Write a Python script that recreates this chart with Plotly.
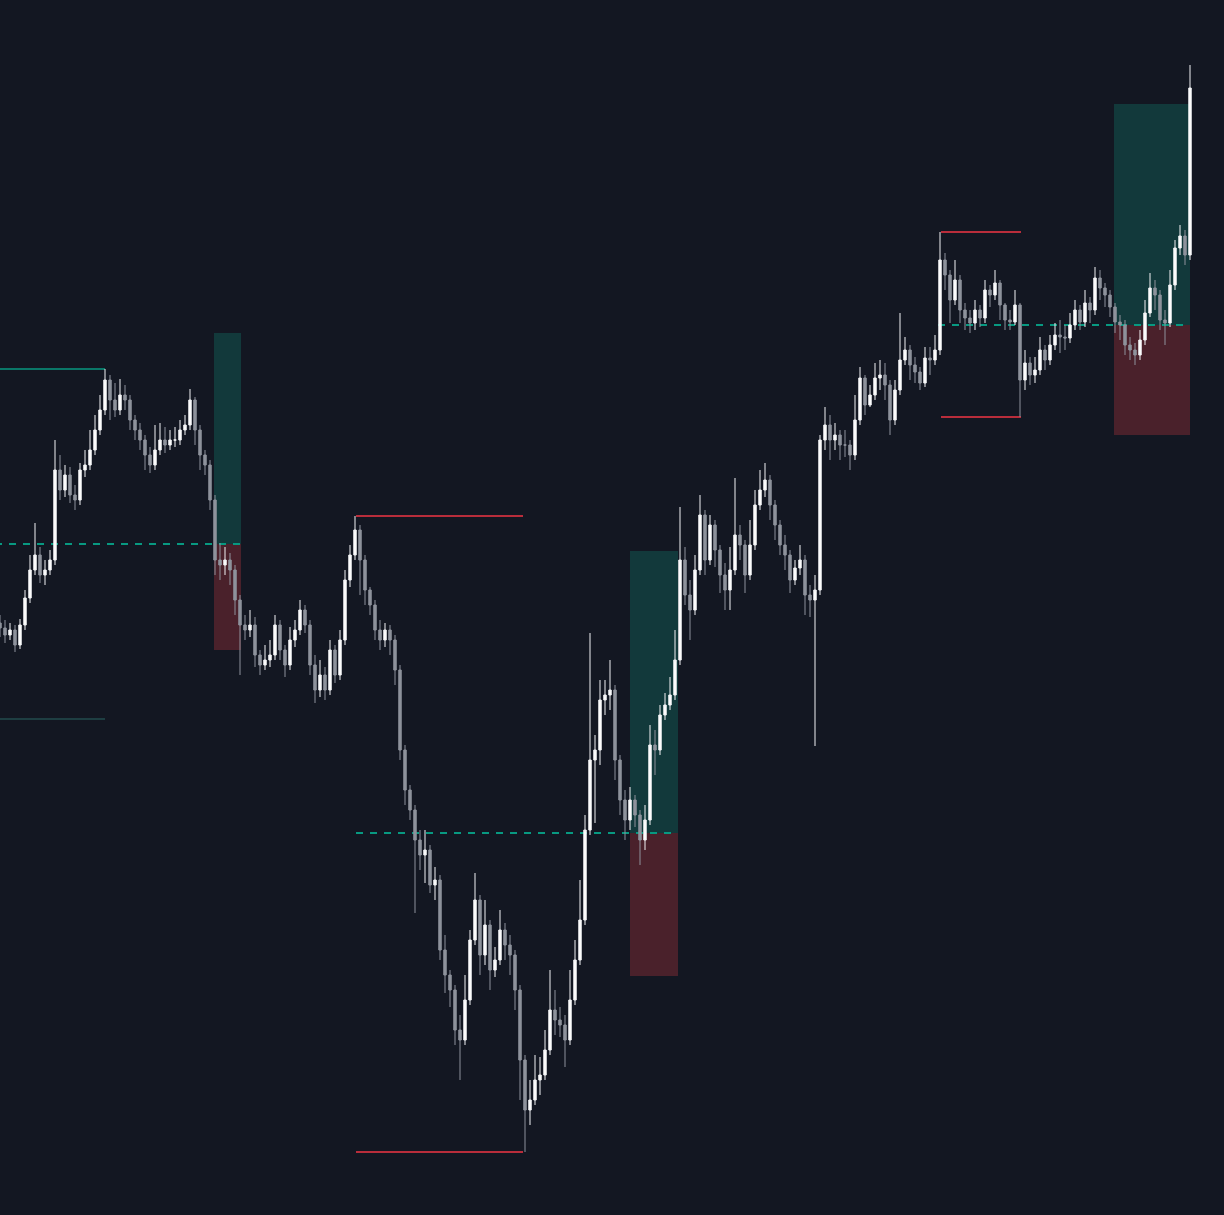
import plotly.graph_objects as go

# ---------------- price data (one bar per candle) ----------------
first_open = 592
closes = [
    587, 580, 585, 570, 590, 617, 645, 660, 640, 645,
    655, 745, 725, 740, 720, 715, 745, 750, 765, 785,
    805, 835, 815, 805, 820, 815, 795, 785, 775, 760,
    750, 765, 775, 770, 775, 775, 785, 790, 815, 785,
    760, 750, 715, 655, 650, 655, 645, 615, 590, 585,
    590, 560, 550, 555, 560, 590, 565, 550, 575, 585,
    605, 590, 550, 525, 540, 525, 565, 540, 575, 635,
    660, 685, 655, 625, 610, 585, 575, 585, 575, 545,
    465, 425, 405, 375, 360, 365, 330, 335, 265, 240,
    225, 185, 175, 215, 275, 315, 260, 290, 245, 255,
    285, 270, 260, 225, 155, 105, 115, 135, 140, 165,
    205, 195, 190, 175, 215, 255, 295, 385, 455, 465,
    515, 520, 525, 455, 415, 395, 415, 400, 375, 395,
    470, 465, 500, 510, 520, 555, 655, 620, 605, 645,
    700, 655, 690, 665, 640, 625, 645, 680, 670, 640,
    670, 710, 725, 735, 710, 690, 670, 660, 635, 647,
    655, 620, 615, 625, 775, 790, 775, 780, 770, 770,
    760, 795, 837, 810, 820, 837, 840, 830, 795, 825,
    855, 865, 850, 843, 832, 857, 855, 865, 955, 940,
    915, 935, 905, 897, 892, 905, 897, 925, 920, 932,
    910, 895, 893, 910, 835, 852, 840, 845, 865, 855,
    870, 880, 878, 877, 890, 905, 893, 912, 905, 937,
    927, 920, 908, 893, 890, 870, 865, 860, 875, 902,
    927, 920, 895, 892, 930, 967, 979, 960, 1127,
]
highs = [
    600, 595, 592, 590, 596, 625, 660, 692, 668, 655,
    665, 775, 760, 750, 748, 730, 752, 765, 785, 800,
    820, 846, 840, 832, 836, 830, 820, 800, 792, 780,
    768, 790, 792, 788, 785, 788, 795, 800, 826, 818,
    790, 765, 755, 720, 672, 668, 662, 650, 620, 600,
    605, 598, 565, 570, 575, 600, 595, 570, 588, 595,
    615, 610, 595, 560, 555, 548, 575, 570, 585, 645,
    670, 699, 690, 660, 628, 615, 595, 592, 590, 580,
    550, 470, 430, 410, 385, 385, 370, 348, 340, 280,
    245, 230, 200, 240, 285, 342, 320, 315, 295, 268,
    305, 292, 280, 265, 230, 160, 135, 160, 158, 185,
    245, 225, 208, 200, 245, 275, 335, 400, 582, 480,
    535, 535, 555, 530, 460, 425, 428, 420, 405, 410,
    490, 485, 510, 522, 538, 585, 708, 668, 635, 660,
    720, 705, 700, 695, 670, 652, 668, 737, 690, 675,
    695, 725, 745, 752, 740, 715, 695, 680, 665, 655,
    670, 660, 630, 640, 780, 808, 800, 792, 785, 785,
    775, 820, 848, 840, 830, 852, 855, 852, 835, 835,
    902, 878, 870, 858, 848, 868, 868, 880, 983, 962,
    945, 955, 940, 912, 905, 915, 910, 935, 930, 945,
    935, 912, 905, 925, 912, 865, 858, 858, 878, 870,
    880, 892, 895, 890, 902, 915, 910, 925, 918, 948,
    945, 932, 925, 912, 900, 895, 878, 872, 885, 915,
    942, 935, 925, 905, 945, 975, 990, 985, 1150,
]
lows = [
    578, 572, 575, 563, 566, 585, 612, 640, 632, 630,
    640, 650, 715, 718, 712, 705, 710, 738, 745, 760,
    780, 800, 795, 798, 800, 805, 785, 775, 765, 745,
    742, 745, 760, 762, 765, 768, 770, 780, 785, 770,
    745, 740, 705, 640, 635, 640, 630, 600, 540, 575,
    578, 548, 540, 545, 548, 555, 555, 538, 545, 568,
    580, 582, 540, 512, 518, 515, 520, 532, 535, 570,
    628, 655, 620, 610, 600, 575, 565, 568, 560, 530,
    455, 410, 395, 302, 345, 332, 322, 315, 255, 222,
    208, 170, 135, 170, 210, 270, 240, 250, 225, 238,
    250, 255, 240, 205, 115, 63, 90, 110, 120, 135,
    160, 180, 178, 148, 170, 210, 250, 290, 380, 392,
    450, 500, 505, 435, 400, 375, 385, 388, 350, 365,
    390, 440, 460, 495, 505, 515, 550, 610, 575, 600,
    640, 640, 650, 648, 622, 605, 605, 640, 655, 622,
    635, 665, 705, 718, 695, 675, 660, 645, 622, 630,
    640, 600, 598, 469, 620, 765, 755, 765, 755, 758,
    745, 755, 790, 800, 808, 815, 825, 815, 780, 790,
    820, 850, 835, 832, 825, 828, 840, 850, 860, 925,
    892, 910, 892, 885, 882, 885, 888, 892, 908, 915,
    895, 885, 885, 890, 798, 825, 830, 832, 840, 845,
    850, 865, 862, 865, 872, 885, 885, 888, 892, 900,
    915, 908, 898, 882, 875, 860, 855, 850, 855, 870,
    898, 905, 885, 870, 888, 925, 960, 950, 955,
]
opens = [first_open] + closes[:-1]
bar_index = list(range(len(closes)))

# ---------------- trade zones ----------------
zone_start = [42.8, 126.0, 222.8]
zone_end = [48.2, 135.6, 238.0]
zone_entry = [671, 382, 890]
zone_target = [882, 664, 1111]
zone_stop = [565, 239, 780]
entry_line_start = [-1.0, 71.2, 187.6]

# ---------------- range levels ----------------
level_start = [-1.0, -1.0, 71.2, 71.2, 188.2, 188.2]
level_end = [21.0, 21.0, 104.6, 104.6, 204.2, 204.2]
level_price = [846, 496, 699, 63, 983, 798]
level_kind = ["teal", "teal_dim", "red", "red", "red", "red"]

BG = "#131722"
GREEN_BOX = "#12393b"
RED_BOX = "#4a212b"
TEAL = "#089981"
TEAL_DIM = "#2b6663"
RED = "#f23645"
level_colors = {"teal": TEAL, "teal_dim": TEAL_DIM, "red": RED}
level_widths = {"teal": 1.6, "teal_dim": 1.2, "red": 1.3}

fig = go.Figure()

for xs, xe, en, tp, sl in zip(zone_start, zone_end, zone_entry, zone_target, zone_stop):
    fig.add_shape(type="rect", x0=xs, x1=xe, y0=en, y1=tp, fillcolor=GREEN_BOX,
                  line=dict(width=0), layer="below")
    fig.add_shape(type="rect", x0=xs, x1=xe, y0=sl, y1=en, fillcolor=RED_BOX,
                  line=dict(width=0), layer="below")

for xs, xe, en in zip(entry_line_start, zone_end, zone_entry):
    fig.add_shape(type="line", x0=xs, x1=xe, y0=en, y1=en,
                  line=dict(color=TEAL, width=2, dash="7px,7px"), layer="below")

for xs, xe, p, k in zip(level_start, level_end, level_price, level_kind):
    fig.add_shape(type="line", x0=xs, x1=xe, y0=p, y1=p,
                  line=dict(color=level_colors[k], width=level_widths[k]), layer="below")

fig.add_trace(go.Candlestick(
    x=bar_index, open=opens, high=highs, low=lows, close=closes,
    increasing=dict(line=dict(color="#f2f3f5", width=1), fillcolor="#ffffff"),
    decreasing=dict(line=dict(color="#8e929c", width=1), fillcolor="#8e929c"),
    whiskerwidth=0, showlegend=False, hoverinfo="skip",
))

fig.update_layout(
    width=1224, height=1215,
    margin=dict(l=0, r=0, t=0, b=0, pad=0),
    paper_bgcolor=BG, plot_bgcolor=BG,
    showlegend=False,
    xaxis=dict(visible=False, range=[0, 244.8], rangeslider=dict(visible=False),
               showgrid=False, zeroline=False),
    yaxis=dict(visible=False, range=[0, 1215], showgrid=False, zeroline=False),
)

fig.write_html(
    "out.html",
    config={"displayModeBar": False},
    post_script="document.body.style.margin='0';document.body.style.background='#131722';",
)
